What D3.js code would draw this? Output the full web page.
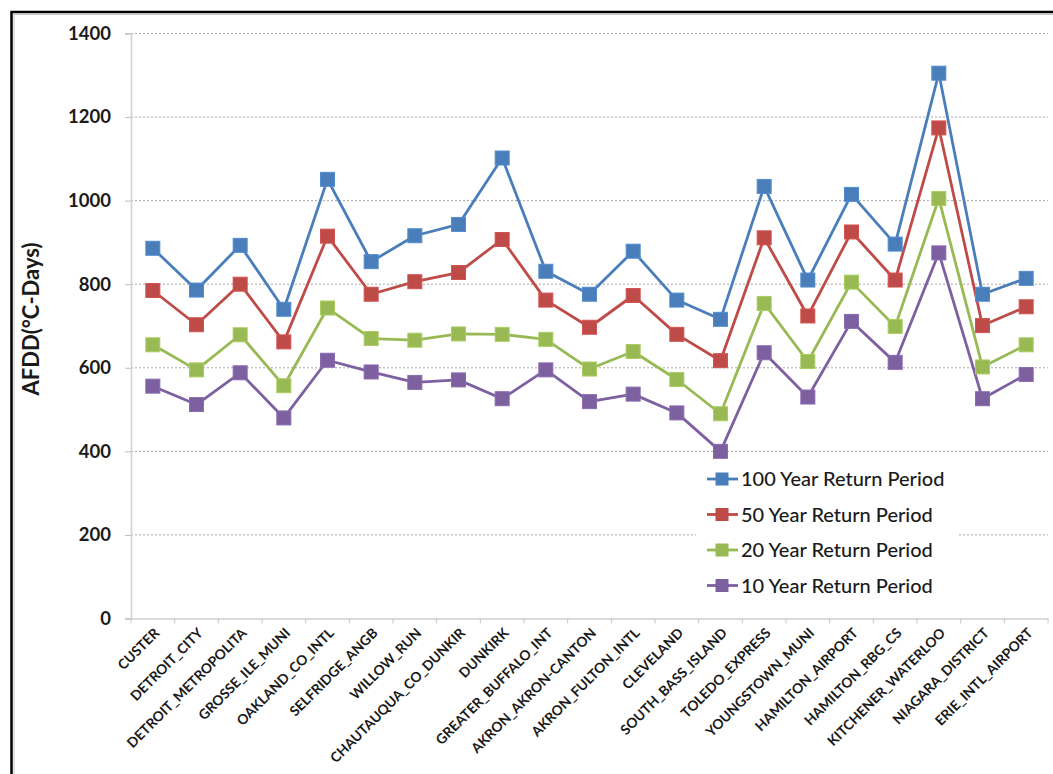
<!DOCTYPE html>
<html>
<head>
<meta charset="utf-8">
<script src="https://cdn.jsdelivr.net/npm/d3@7"></script>
<style>
  body { margin: 0; background: #fff; }
  text { font-family: Lato, "Open Sans", sans-serif; }
</style>
</head>
<body>
<div id="myChart"></div>
<script>
// stations along the x axis
const stations = ["CUSTER", "DETROIT_CITY", "DETROIT_METROPOLITA", "GROSSE_ILE_MUNI",
  "OAKLAND_CO_INTL", "SELFRIDGE_ANGB", "WILLOW_RUN", "CHAUTAUQUA_CO_DUNKIR", "DUNKIRK",
  "GREATER_BUFFALO_INT", "AKRON_AKRON-CANTON", "AKRON_FULTON_INTL", "CLEVELAND",
  "SOUTH_BASS_ISLAND", "TOLEDO_EXPRESS", "YOUNGSTOWN_MUNI", "HAMILTON_AIRPORT",
  "HAMILTON_RBG_CS", "KITCHENER_WATERLOO", "NIAGARA_DISTRICT", "ERIE_INTL_AIRPORT"];

// AFDD values
const rp100 = [886, 786, 893, 740, 1051, 854, 916, 943, 1102, 831, 776, 879, 762, 716, 1034, 810, 1015, 896, 1305, 776, 814];
const rp50  = [785, 703, 800, 662, 915, 776, 806, 828, 907, 762, 697, 773, 680, 617, 911, 724, 925, 810, 1174, 701, 746];
const rp20  = [655, 595, 679, 557, 743, 670, 666, 681, 680, 668, 597, 639, 572, 490, 754, 615, 805, 699, 1005, 602, 655];
const rp10  = [556, 512, 588, 480, 618, 590, 565, 571, 526, 595, 519, 537, 492, 400, 636, 530, 711, 613, 875, 526, 584];

const seriesNames = ["100 Year Return Period", "50 Year Return Period", "20 Year Return Period", "10 Year Return Period"];
const seriesColors = ["#4a7ebb", "#be4b48", "#98b954", "#7d60a0"];
const yTicks = [0, 200, 400, 600, 800, 1000, 1200, 1400];

let w = 1053;
let h = 774;

let svg = d3.select("#myChart").append("svg")
  .attr("width", w)
  .attr("height", h);

// outer frame
svg.append("rect")
  .attr("x", 11.5).attr("y", 12)
  .attr("width", 1200).attr("height", 1000)
  .attr("fill", "#fff")
  .attr("stroke", "#000")
  .attr("stroke-width", 2.5);
svg.append("rect")
  .attr("x", 14).attr("y", 14.5)
  .attr("width", 1200).attr("height", 1000)
  .attr("fill", "none")
  .attr("stroke", "#c8c8c8")
  .attr("stroke-width", 1);

let plotL = 131, plotR = 1048, plotT = 33.5, plotB = 618.5;

var x = d3.scaleBand()
  .domain(stations)
  .range([plotL, plotR]);

var y = d3.scaleLinear()
  .domain([0, 1400])
  .range([plotB, plotT]);

// gridlines
svg.append("g")
  .selectAll("line")
  .data(yTicks.filter(d => d > 0))
  .enter()
  .append("line")
  .attr("x1", plotL).attr("x2", plotR)
  .attr("y1", d => y(d)).attr("y2", d => y(d))
  .attr("stroke", "#a6a6a6")
  .attr("stroke-width", 1)
  .attr("stroke-dasharray", "2,2");

// y axis
let yAxis = svg.append("g")
  .attr("transform", `translate(${plotL},0)`)
  .call(d3.axisLeft(y).tickValues(yTicks).tickFormat(d3.format("d")).tickSize(6).tickPadding(14));
yAxis.select(".domain").attr("stroke", "#d0d0d0").attr("stroke-width", 1.5);
yAxis.selectAll(".tick line").attr("stroke", "#bdbdbd");
yAxis.selectAll("text")
  .style("font-family", "Lato, sans-serif")
  .style("font-size", "18.5px")
  .style("font-weight", "bold")
  .attr("fill", "#1a1a1a");

// x axis
let xAxis = svg.append("g")
  .attr("transform", `translate(0,${plotB})`)
  .call(d3.axisBottom(x).tickSize(0).tickFormat(""));
xAxis.select(".domain").attr("stroke", "#d0d0d0").attr("stroke-width", 1.5);

// boundary ticks between categories
svg.append("g")
  .selectAll("line")
  .data(stations.map(s => x(s)).concat([plotR]))
  .enter()
  .append("line")
  .attr("x1", d => d).attr("x2", d => d)
  .attr("y1", plotB).attr("y2", plotB + 5)
  .attr("stroke", "#c8c8c8");

// category labels
svg.append("g")
  .selectAll("text")
  .data(stations)
  .enter()
  .append("text")
  .attr("transform", d => `translate(${x(d) + x.bandwidth() / 2 + 4},${plotB + 12}) rotate(-45)`)
  .attr("text-anchor", "end")
  .attr("dy", "0.35em")
  .style("font-size", "13.8px")
  .style("font-weight", "bold")
  .attr("fill", "#1a1a1a")
  .text(d => d);

// y title
svg.append("text")
  .attr("transform", `translate(39,319) rotate(-90)`)
  .attr("text-anchor", "middle")
  .style("font-size", "22px")
  .style("font-weight", "bold")
  .attr("fill", "#1a1a1a")
  .text("AFDD(\u00B0C-Days)");

// lines and markers
let allSeries = [rp100, rp50, rp20, rp10];
let line = d3.line()
  .x((d, i) => x(stations[i]) + x.bandwidth() / 2)
  .y(d => y(d));

allSeries.forEach(function(vals, k) {
  svg.append("path")
    .datum(vals)
    .attr("d", line)
    .attr("fill", "none")
    .attr("stroke", seriesColors[k])
    .attr("stroke-width", 2.8)
    .attr("stroke-linejoin", "round");
});

let ms = 14;
allSeries.forEach(function(vals, k) {
  svg.append("g")
    .selectAll("rect")
    .data(vals)
    .enter()
    .append("rect")
    .attr("x", (d, i) => x(stations[i]) + x.bandwidth() / 2 - ms / 2)
    .attr("y", d => y(d) - ms / 2)
    .attr("width", ms).attr("height", ms)
    .attr("fill", seriesColors[k])
    .attr("stroke", d3.color(seriesColors[k]).brighter(0.3))
    .attr("stroke-width", 1);
});

// legend
let legend = svg.append("g");
legend.append("rect")
  .attr("x", 696).attr("y", 461)
  .attr("width", 262).attr("height", 142)
  .attr("fill", "#fff");

seriesNames.forEach(function(name, k) {
  let ly = 479 + k * 35.5;
  legend.append("line")
    .attr("x1", 707).attr("x2", 738)
    .attr("y1", ly).attr("y2", ly)
    .attr("stroke", seriesColors[k])
    .attr("stroke-width", 2.8);
  legend.append("rect")
    .attr("x", 722 - 6.5).attr("y", ly - 6.5)
    .attr("width", 13).attr("height", 13)
    .attr("fill", seriesColors[k]);
  legend.append("text")
    .attr("x", 741).attr("y", ly)
    .attr("dy", "0.36em")
    .style("font-size", "20px")
    .style("font-weight", 500)
    .attr("fill", "#1a1a1a")
    .text(name);
});
</script>
</body>
</html>
